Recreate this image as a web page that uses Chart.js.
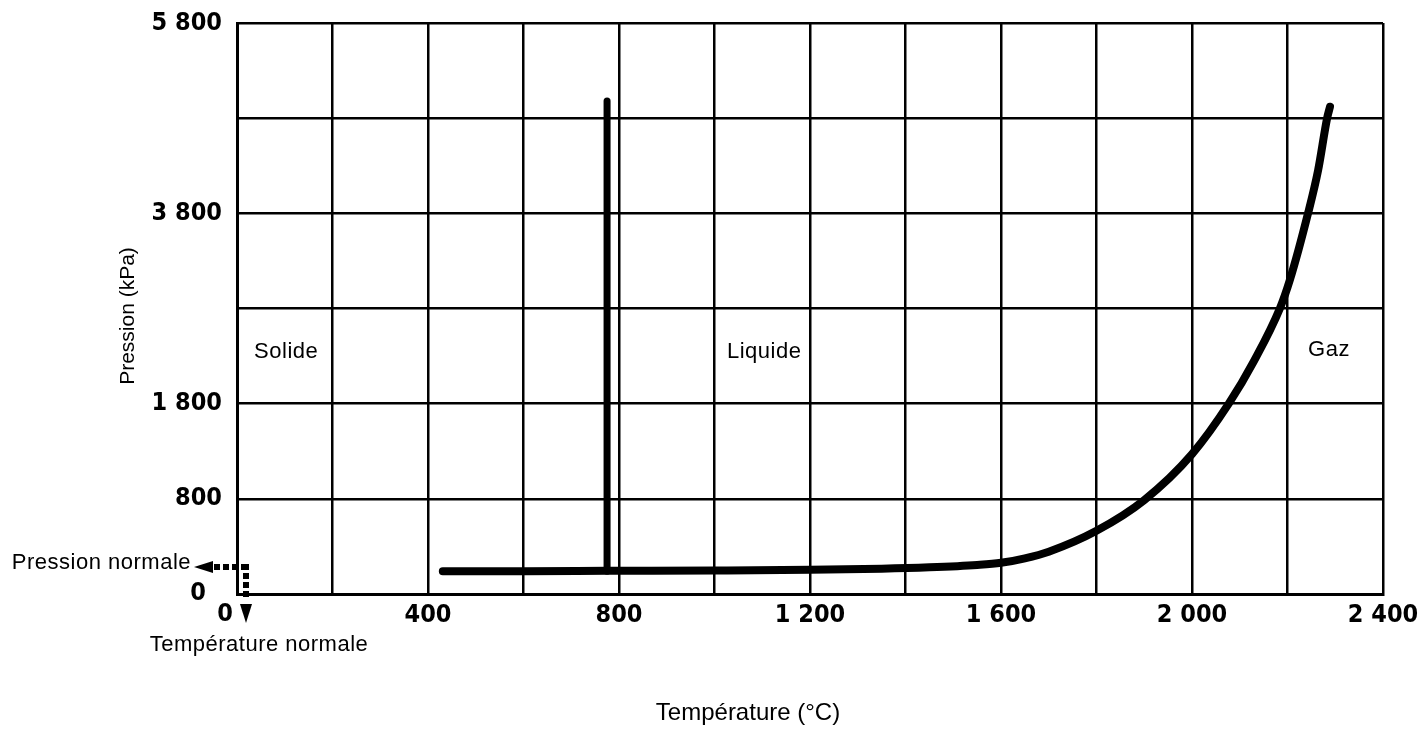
<!DOCTYPE html>
<html>
<head>
<meta charset="utf-8">
<script src="https://cdn.jsdelivr.net/npm/chart.js@4.4.1/dist/chart.umd.min.js"></script>
<style>
  html, body { margin: 0; padding: 0; background: #fff; }
  #wrap { width: 1419px; height: 731px; position: relative; }
</style>
</head>
<body>
<div id="wrap"><canvas id="c" width="1419" height="731"></canvas></div>
<script>
// ---------- data ----------
// Pressure axis gridlines (kPa) – evenly spaced, not linear
const pressureBreaks = [0, 800, 1800, 2800, 3800, 4800, 5800];
const yTickLabels    = ['0', '800', '1 800', '', '3 800', '', '5 800'];
const xTickValues    = [0, 400, 800, 1200, 1600, 2000, 2400];
const xTickLabels    = ['0', '400', '800', '1 200', '1 600', '2 000', '2 400'];

// Solid / liquid boundary (vertical line)
const meltTemp     = [775, 775];
const meltPressure = [192, 4980];

// Sublimation + vaporisation curve
const curveTemp     = [431, 600, 775, 1000, 1200, 1350, 1450, 1550, 1600, 1650, 1700, 1800, 1900, 2000, 2077, 2130, 2184, 2205, 2243, 2264, 2283, 2289];
const curvePressure = [192, 192, 195, 198, 203, 212, 224, 244, 262, 300, 356, 532, 790, 1270, 1800, 2250, 2800, 3100, 3800, 4250, 4800, 4920];

// Region labels
const regionNames    = ['Solide', 'Liquide', 'Gaz'];
const regionTemp     = [103, 1104, 2287];
const regionPressure = [2340, 2340, 2360];

// ---------- helpers ----------
function toIdx(p) {
  for (let i = 0; i < pressureBreaks.length - 1; i++) {
    const a = pressureBreaks[i], b = pressureBreaks[i + 1];
    if (p <= b) return i + (p - a) / (b - a);
  }
  return pressureBreaks.length - 1;
}
function pts(ts, ps) { return ts.map((t, i) => ({ x: t, y: toIdx(ps[i]) })); }

const TICK_FONT = '"Liberation Sans Narrow", "DejaVu Sans Condensed", "Liberation Sans", sans-serif';
const TEXT_FONT = '"Liberation Sans", Arial, Helvetica, sans-serif';

const annot = {
  id: 'annot',
  afterDraw(chart) {
    const ctx = chart.ctx;
    const xs = chart.scales.x, ys = chart.scales.y;
    const ca = chart.chartArea;
    ctx.save();
    ctx.fillStyle = '#000';
    // region labels
    ctx.font = '22px ' + TEXT_FONT;
    ctx.letterSpacing = '0.5px';
    ctx.textAlign = 'center';
    ctx.textBaseline = 'middle';
    regionNames.forEach((n, i) => {
      ctx.fillText(n, xs.getPixelForValue(regionTemp[i]), ys.getPixelForValue(toIdx(regionPressure[i])));
    });
    ctx.letterSpacing = '0px';
    // zero tick labels (shifted because of the arrows)
    ctx.font = 'bold 25px ' + TICK_FONT;
    ctx.textAlign = 'right';
    ctx.fillText('0', ca.left - 31, ys.getPixelForValue(0) - 1);
    ctx.textAlign = 'center';
    ctx.fillText('0', xs.getPixelForValue(0) - 12, ca.bottom + 20);

    // dotted arrows
    const ax = xs.getPixelForValue(0) + 9;
    const ay = ys.getPixelForValue(0) - 27;
    for (let x = ax - 2; x > ax - 32; x -= 9) ctx.fillRect(x - 3, ay - 3, 6, 6);
    ctx.beginPath();
    ctx.moveTo(ax - 52, ay);
    ctx.lineTo(ax - 33, ay - 6);
    ctx.lineTo(ax - 33, ay + 6);
    ctx.closePath();
    ctx.fill();
    for (let y = ay; y < ay + 34; y += 9) ctx.fillRect(ax - 3, y - 3, 6, 6);
    ctx.beginPath();
    ctx.moveTo(ax - 6, ay + 37);
    ctx.lineTo(ax + 6, ay + 37);
    ctx.lineTo(ax, ay + 56);
    ctx.closePath();
    ctx.fill();

    ctx.font = '22px ' + TEXT_FONT;
    ctx.letterSpacing = '0.5px';
    ctx.textAlign = 'right';
    ctx.fillText('Pression normale', ax - 55, ay - 4);
    ctx.textAlign = 'center';
    ctx.fillText('Température normale', 259, ca.bottom + 51);
    ctx.letterSpacing = '0px';

    // axis titles
    ctx.font = '24px ' + TEXT_FONT;
    ctx.fillText('Température (°C)', 748, 713);
    ctx.font = '21px ' + TEXT_FONT;
    ctx.translate(128, 316);
    ctx.rotate(-Math.PI / 2);
    ctx.fillText('Pression (kPa)', 0, 0);
    ctx.restore();
  }
};

new Chart(document.getElementById('c'), {
  type: 'scatter',
  data: {
    datasets: [
      {
        data: pts(meltTemp, meltPressure),
        showLine: true, borderColor: '#000', borderWidth: 7,
        pointRadius: 0, borderCapStyle: 'round'
      },
      {
        data: pts(curveTemp, curvePressure),
        showLine: true, borderColor: '#000', borderWidth: 8,
        pointRadius: 0, borderCapStyle: 'round', cubicInterpolationMode: 'monotone'
      }
    ]
  },
  options: {
    responsive: false,
    animation: false,
    devicePixelRatio: 1,
    layout: { padding: { top: 23, right: 36, left: 0, bottom: 0 } },
    plugins: { legend: { display: false }, tooltip: { enabled: false } },
    scales: {
      x: {
        type: 'linear', min: 0, max: 2400,
        ticks: {
          stepSize: 200, autoSkip: false, maxRotation: 0, padding: 6,
          color: '#000', font: { family: TICK_FONT, size: 25, weight: 'bold' },
          callback: (v) => { const i = xTickValues.indexOf(v); return (i > 0) ? xTickLabels[i] : ''; }
        },
        grid: { color: '#000', lineWidth: 2.5, drawTicks: false },
        border: { color: '#000', width: 3 },
        afterFit: (s) => { s.height = 137; s.paddingLeft = 0; s.paddingRight = 0; }
      },
      y: {
        type: 'linear', min: 0, max: pressureBreaks.length - 1,
        ticks: {
          stepSize: 1, autoSkip: false, padding: 15,
          color: '#000', font: { family: TICK_FONT, size: 25, weight: 'bold' },
          callback: (v) => (v > 0 && Number.isInteger(v)) ? yTickLabels[v] : ''
        },
        grid: { color: '#000', lineWidth: 2.5, drawTicks: false },
        border: { color: '#000', width: 3 },
        afterFit: (s) => { s.width = 237; s.paddingTop = 0; s.paddingBottom = 0; }
      }
    }
  },
  plugins: [annot]
});
</script>
</body>
</html>
